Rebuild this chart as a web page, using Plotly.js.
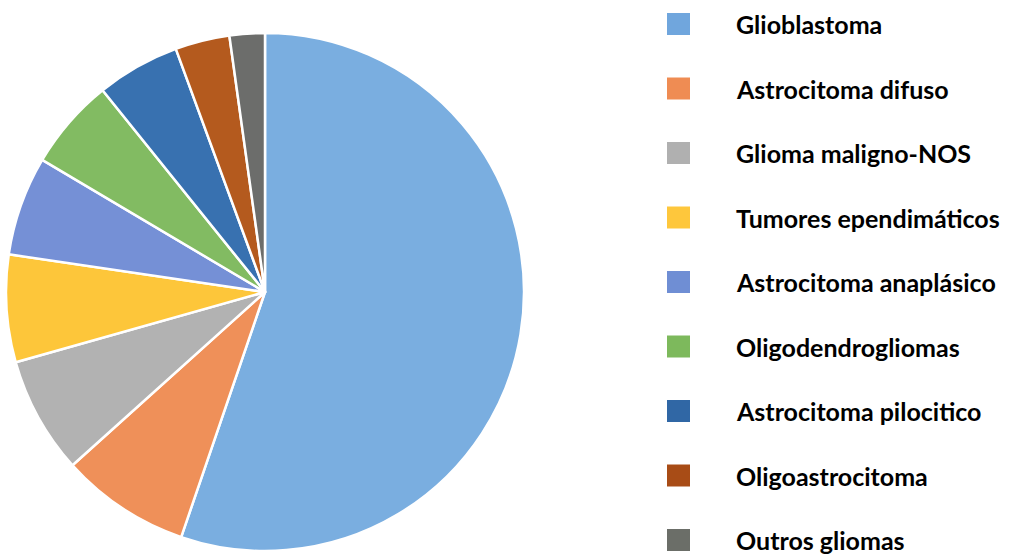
<!DOCTYPE html>
<html>
<head>
<meta charset="utf-8">
<script src="https://cdn.plot.ly/plotly-3.0.1.min.js"></script>
<style>html,body{margin:0;padding:0;background:#fff;}#chart{width:1011px;height:554px;}</style>
</head>
<body>
<div id="chart"></div>
<script>
const labels = ["Glioblastoma","Astrocitoma difuso","Glioma maligno-NOS","Tumores ependimáticos","Astrocitoma anaplásico","Oligodendrogliomas","Astrocitoma pilocitico","Oligoastrocitoma","Outros gliomas"];
const values = [55.3, 8.1, 7.3, 6.7, 6.2, 5.7, 5.2, 3.4, 2.2];
const sliceColors = ["#7aaee0","#ef9059","#b2b2b2","#fdc63a","#7590d6","#82bb62","#3871b0","#b45a1e","#6c6d6b"];
const swatchColors = ["#70a6dd","#ef8c53","#b0b0b0","#fec73c","#6f8ed4","#7db95c","#3067a5","#a84c16","#6b6e68"];

const W = 1011, H = 554;
const px = x => x / W, py = y => 1 - y / H;
const rowY0 = 24, rowStep = 64.5;

const shapes = labels.map((l, i) => ({
  type: "rect", xref: "paper", yref: "paper",
  x0: px(667), x1: px(690),
  y0: py(rowY0 + i * rowStep - 11), y1: py(rowY0 + i * rowStep + 11),
  fillcolor: swatchColors[i], line: {width: 0}
}));
const annotations = labels.map((l, i) => ({
  xref: "paper", yref: "paper", x: px(734), y: py(rowY0 + i * rowStep),
  xanchor: "left", yanchor: "middle", showarrow: false, text: "<b>" + l + "</b>",
  font: {family: "Lato, 'Open Sans', sans-serif", size: 25, color: "#000"}
}));

const cx = 265, cy = 292, r = 259;
Plotly.newPlot("chart", [{
  type: "pie", labels: labels, values: values, sort: false, direction: "clockwise",
  rotation: 0, textinfo: "none", hoverinfo: "label+percent",
  marker: {colors: sliceColors, line: {color: "#ffffff", width: 2.5}},
  domain: {x: [px(cx - r), px(cx + r)], y: [py(cy + r), py(cy - r)]},
  showlegend: false
}], {
  width: W, height: H, margin: {l: 0, r: 0, t: 0, b: 0},
  paper_bgcolor: "#fff", showlegend: false, shapes: shapes, annotations: annotations
}, {displayModeBar: false, staticPlot: true});
</script>
</body>
</html>
